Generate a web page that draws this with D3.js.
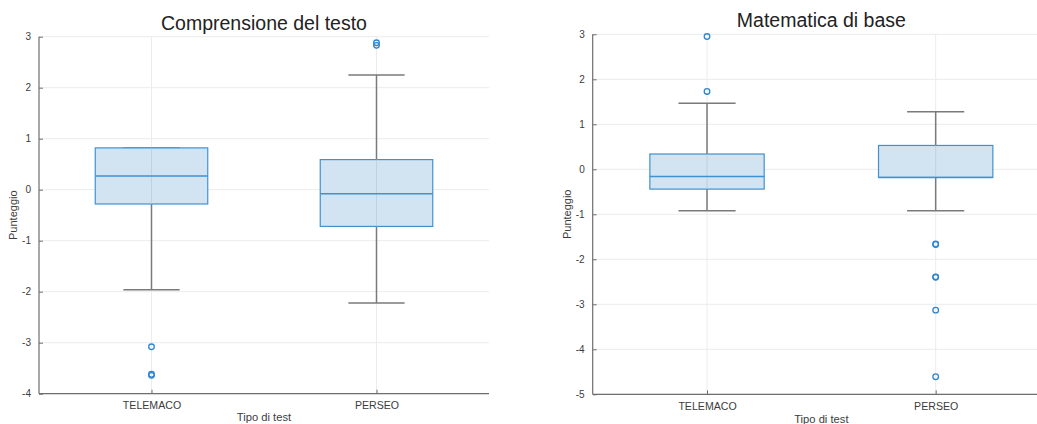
<!DOCTYPE html>
<html><head><meta charset="utf-8">
<script src="https://cdn.jsdelivr.net/npm/d3@7"></script>
<style>body{margin:0;background:#fff;} svg{display:block;font-family:"Liberation Sans",Arial,sans-serif;}</style>
</head><body>
<svg id="c" width="1037" height="424"></svg>
<script>
const categories = ["TELEMACO", "PERSEO"];
const titles = ["Comprensione del testo", "Matematica di base"];
const yLabel = "Punteggio";
const xLabel = "Tipo di test";

// Panel 1: Comprensione del testo
const lower1 = [-1.96, -2.22];
const q1_1 = [-0.28, -0.72];
const median1 = [0.27, -0.08];
const q3_1 = [0.82, 0.59];
const upper1 = [0.82, 2.25];
const outliers1 = [[-3.08, -3.62, -3.64], [2.83, 2.88]];
const yTicks1 = [-4, -3, -2, -1, 0, 1, 2, 3];

// Panel 2: Matematica di base
const lower2 = [-0.92, -0.92];
const q1_2 = [-0.44, -0.18];
const median2 = [-0.16, -0.18];
const q3_2 = [0.34, 0.53];
const upper2 = [1.47, 1.28];
const outliers2 = [[2.95, 1.73], [-1.66, -1.67, -2.39, -2.40, -3.13, -4.61]];
const yTicks2 = [-5, -4, -3, -2, -1, 0, 1, 2, 3];

const panels = [
  {title: titles[0], lower: lower1, q1: q1_1, median: median1, q3: q3_1, upper: upper1, outliers: outliers1, ticks: yTicks1,
   x0: 39, x1: 489, y0: 36.7, y1: 393.7, titleY: 30, ylabX: 17, xlabY: 421},
  {title: titles[1], lower: lower2, q1: q1_2, median: median2, q3: q3_2, upper: upper2, outliers: outliers2, ticks: yTicks2,
   x0: 592.7, x1: 1050, y0: 34.3, y1: 394.3, titleY: 27, ylabX: 571, xlabY: 423}
];

const svg = d3.select("#c");
const boxFill = "#cde1f0", boxStroke = "#3f92d2", whisk = "#7a7a7a", grid = "#ececec", axisC = "#6e6e6e", txt = "#3c3c3c";

panels.forEach(p => {
  const g = svg.append("g");
  const x = d3.scalePoint().domain(categories).range([p.x0, p.x1]).padding(0.5);
  const y = d3.scaleLinear().domain(d3.extent(p.ticks)).range([p.y1, p.y0]);
  const step = x.step();
  const bw = step * 0.5, cw = step * 0.25;

  // grid
  g.append("g").selectAll("line.h").data(p.ticks).join("line")
    .attr("x1", p.x0).attr("x2", p.x1).attr("y1", d => y(d)).attr("y2", d => y(d))
    .attr("stroke", grid).attr("stroke-width", 1);
  g.append("g").selectAll("line.v").data(categories).join("line")
    .attr("x1", d => x(d)).attr("x2", d => x(d)).attr("y1", p.y0).attr("y2", p.y1)
    .attr("stroke", grid).attr("stroke-width", 1);

  // axes
  const ya = g.append("g").attr("transform", `translate(${p.x0},0)`)
    .call(d3.axisLeft(y).tickValues(p.ticks).tickSize(-4).tickPadding(8).tickFormat(d => String(d)));
  const xa = g.append("g").attr("transform", `translate(0,${p.y1})`)
    .call(d3.axisBottom(x).tickSize(-4).tickPadding(8));
  [ya, xa].forEach(a => {
    a.select(".domain").attr("stroke", axisC).attr("stroke-width", 1.2);
    a.selectAll(".tick line").attr("stroke", axisC);
    a.selectAll(".tick text").attr("fill", txt).attr("font-size", 10).attr("font-family", "Liberation Sans, Arial, sans-serif");
  });
  xa.selectAll(".tick text").attr("font-size", 10.6);
  ya.select(".domain").attr("d", `M0,${p.y1}V${p.y0}`);
  xa.select(".domain").attr("d", `M${p.x0},0H${p.x1}`);

  const idx = d3.range(categories.length);
  // whiskers
  g.append("g").selectAll("line").data(idx).join("line")
    .attr("x1", i => x(categories[i])).attr("x2", i => x(categories[i]))
    .attr("y1", i => y(p.upper[i])).attr("y2", i => y(p.q3[i]))
    .attr("stroke", whisk).attr("stroke-width", 1.5);
  g.append("g").selectAll("line").data(idx).join("line")
    .attr("x1", i => x(categories[i])).attr("x2", i => x(categories[i]))
    .attr("y1", i => y(p.q1[i])).attr("y2", i => y(p.lower[i]))
    .attr("stroke", whisk).attr("stroke-width", 1.5);
  ["upper", "lower"].forEach(k => {
    g.append("g").selectAll("line").data(idx).join("line")
      .attr("x1", i => x(categories[i]) - cw / 2).attr("x2", i => x(categories[i]) + cw / 2)
      .attr("y1", i => y(p[k][i])).attr("y2", i => y(p[k][i]))
      .attr("stroke", whisk).attr("stroke-width", 1.5);
  });

  // boxes
  g.append("g").selectAll("rect").data(idx).join("rect")
    .attr("x", i => x(categories[i]) - bw / 2).attr("width", bw)
    .attr("y", i => y(p.q3[i])).attr("height", i => y(p.q1[i]) - y(p.q3[i]))
    .attr("fill", boxFill).attr("fill-opacity", 0.9).attr("stroke", boxStroke).attr("stroke-width", 1.2);
  g.append("g").selectAll("line").data(idx).join("line")
    .attr("x1", i => x(categories[i])).attr("x2", i => x(categories[i]))
    .attr("y1", i => y(p.q3[i])).attr("y2", i => y(p.q1[i]))
    .attr("stroke", "#b8c8d4").attr("stroke-width", 1).attr("opacity", 0.6);
  // medians
  g.append("g").selectAll("line").data(idx).join("line")
    .attr("x1", i => x(categories[i]) - bw / 2).attr("x2", i => x(categories[i]) + bw / 2)
    .attr("y1", i => y(p.median[i])).attr("y2", i => y(p.median[i]))
    .attr("stroke", boxStroke).attr("stroke-width", 1.5);
  // outliers
  const pts = [];
  idx.forEach(i => p.outliers[i].forEach(v => pts.push({c: categories[i], v})));
  g.append("g").selectAll("circle").data(pts).join("circle")
    .attr("cx", d => x(d.c)).attr("cy", d => y(d.v)).attr("r", 2.8)
    .attr("fill", "none").attr("stroke", "#2f86d0").attr("stroke-width", 1.3);

  // title and labels
  const cx = (p.x0 + p.x1) / 2;
  g.append("text").attr("x", cx).attr("y", p.titleY).attr("text-anchor", "middle")
    .attr("font-size", 19.5).attr("fill", "#222").text(p.title);
  g.append("text").attr("transform", `translate(${p.ylabX},${(p.y0 + p.y1) / 2}) rotate(-90)`)
    .attr("text-anchor", "middle").attr("font-size", 11).attr("fill", txt).text(yLabel);
  g.append("text").attr("x", cx).attr("y", p.xlabY).attr("text-anchor", "middle")
    .attr("font-size", 11.2).attr("fill", txt).text(xLabel);
});
</script>
</body></html>
